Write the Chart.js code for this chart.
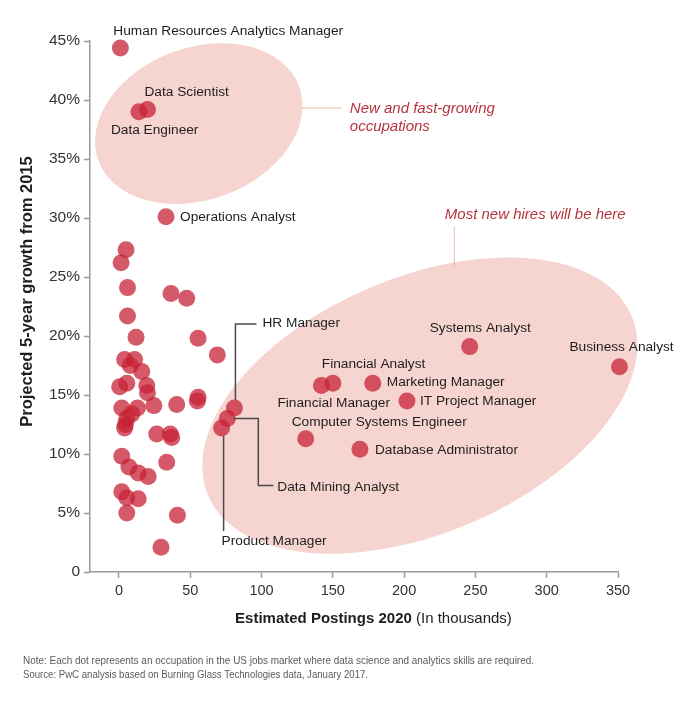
<!DOCTYPE html>
<html><head><meta charset="utf-8">
<script src="https://cdn.jsdelivr.net/npm/chart.js@4.4.0/dist/chart.umd.min.js"></script>
<style>html,body{margin:0;padding:0;background:#fff}#wrap{width:692px;height:703px}</style>
</head><body><div id="wrap"><canvas id="c" width="692" height="703"></canvas></div>
<script>
// ---- data ----
const namedJobs = ['Human Resources Analytics Manager','Data Scientist','Data Engineer','Operations Analyst','HR Manager','Data Mining Analyst','Product Manager','Systems Analyst','Business Analyst','Financial Analyst','Financial Manager','Marketing Manager','IT Project Manager','Computer Systems Engineer','Database Administrator'];
const namedX = [1, 20, 14, 33, 81, 76, 72, 246, 351, 150, 142, 178, 202, 131, 169];
const namedY = [44.4, 39.2, 39.0, 30.1, 13.9, 13.0, 12.2, 19.1, 17.4, 16.0, 15.8, 16.0, 14.5, 11.3, 10.4];
const otherX = [5, 1.5, 6, 36.5, 47.5, 6, 12, 55.5, 69, 4, 11, 8, 16, 0.5, 5.5, 19.5, 20, 24.5, 2, 13, 9, 5.5, 4.5, 4, 40.5, 55.5, 55, 26.5, 36, 37, 33.5, 2, 7, 13.5, 20.5, 2, 5.5, 13.5, 5.5, 41, 29.5];
const otherY = [27.3, 26.2, 24.1, 23.6, 23.2, 21.7, 19.9, 19.8, 18.4, 18.0, 18.0, 17.5, 17.0, 15.7, 16.0, 15.8, 15.2, 14.1, 13.9, 13.9, 13.4, 13.0, 12.5, 12.2, 14.2, 14.8, 14.5, 11.7, 11.7, 11.4, 9.3, 9.8, 8.9, 8.4, 8.1, 6.8, 6.3, 6.2, 5.0, 4.8, 2.1];
const xTickValues = [0, 50, 100, 150, 200, 250, 300, 350];
const yTickValues = [0, 5, 10, 15, 20, 25, 30, 35, 40, 45];
const xTitleBold = 'Estimated Postings 2020';
const xTitleRest = ' (In thousands)';
const yTitle = 'Projected 5-year growth from 2015';
const groupTop = ['New and fast-growing', 'occupations'];
const groupBottom = 'Most new hires will be here';
const notes = ['Note: Each dot represents an occupation in the US jobs market where data science and analytics skills are required.', 'Source: PwC analysis based on Burning Glass Technologies data, January 2017.'];
// group centres (data units)
const groupCentreX = [56, 211];
const groupCentreY = [38.0, 14.1];

// ---- styling (pixels) ----
const FONT = '"Liberation Sans", Arial, Helvetica, sans-serif';
const labelStyle = [
  {dx:-7, dy:-17}, {dx:-3, dy:-17}, {dx:-28, dy:18}, {dx:14, dy:0},
  {dx:28, dy:-85, leader:[[1,-8],[1,-84],[22,-84]]},
  {dx:50, dy:69, leader:[[6,0],[31,0],[31,67],[46,67]]},
  {dx:0, dy:113, leader:[[2,8],[2,103]]},
  {dx:-40, dy:-18}, {dx:-50, dy:-19}, {dx:-11, dy:-19}, {dx:-44, dy:18},
  {dx:14, dy:-1}, {dx:13, dy:0}, {dx:-14, dy:-16}, {dx:15, dy:1}
];
const ellipseStyle = [
  {a:107, b:76, rot:-20.4},
  {a:230, b:128, rot:-23}
];
const pink = '#f6d4d0';
const accent = '#b5343f';

const decor = {
  id: 'decor',
  beforeDatasetsDraw(chart) {
    const ctx = chart.ctx, xs = chart.scales.x, ys = chart.scales.y;
    ctx.save();
    for (let i = 0; i < 2; i++) {
      const cx = xs.getPixelForValue(groupCentreX[i]);
      const cy = ys.getPixelForValue(groupCentreY[i]);
      const e = ellipseStyle[i];
      ctx.beginPath();
      ctx.ellipse(cx, cy, e.a, e.b, e.rot * Math.PI / 180, 0, Math.PI * 2);
      ctx.fillStyle = pink;
      ctx.fill();
    }
    const c0x = xs.getPixelForValue(groupCentreX[0]), c0y = ys.getPixelForValue(groupCentreY[0]);
    const c1x = xs.getPixelForValue(groupCentreX[1]), c1y = ys.getPixelForValue(groupCentreY[1]);
    ctx.strokeStyle = '#eab8b3'; ctx.lineWidth = 1;
    ctx.beginPath(); ctx.moveTo(c0x + 103, c0y - 15.5); ctx.lineTo(c0x + 143, c0y - 15.5); ctx.stroke();
    ctx.beginPath(); ctx.moveTo(c1x + 34.5, c1y - 179); ctx.lineTo(c1x + 34.5, c1y - 139); ctx.stroke();
    ctx.fillStyle = accent;
    ctx.font = 'italic 15px ' + FONT;
    ctx.textBaseline = 'middle'; ctx.textAlign = 'left';
    ctx.fillText(groupTop[0], c0x + 151, c0y - 15);
    ctx.fillText(groupTop[1], c0x + 151, c0y + 3);
    ctx.fillText(groupBottom, c1x + 25, c1y - 191);
    ctx.restore();
  },
  afterDatasetsDraw(chart) {
    const ctx = chart.ctx, xs = chart.scales.x, ys = chart.scales.y;
    ctx.save();
    ctx.font = '13.7px ' + FONT;
    ctx.textBaseline = 'middle'; ctx.textAlign = 'left';
    for (let i = 0; i < namedJobs.length; i++) {
      const px = xs.getPixelForValue(namedX[i]);
      const py = ys.getPixelForValue(namedY[i]);
      const s = labelStyle[i];
      if (s.leader) {
        ctx.strokeStyle = '#4a4a4a'; ctx.lineWidth = 1.5;
        ctx.beginPath();
        s.leader.forEach((p, k) => { if (k === 0) ctx.moveTo(px + p[0], py + p[1]); else ctx.lineTo(px + p[0], py + p[1]); });
        ctx.stroke();
      }
      ctx.fillStyle = '#1e1e1e';
      ctx.fillText(namedJobs[i], px + s.dx, py + s.dy);
    }
    ctx.restore();
  },
  afterDraw(chart) {
    const ctx = chart.ctx, xs = chart.scales.x, ca = chart.chartArea;
    ctx.save();
    ctx.fillStyle = '#1e1e1e';
    ctx.textBaseline = 'middle';
    ctx.font = 'bold 15px ' + FONT;
    const wb = ctx.measureText(xTitleBold).width;
    ctx.font = '15px ' + FONT;
    const wr = ctx.measureText(xTitleRest).width;
    const mid = (xs.getPixelForValue(xTickValues[0]) + xs.getPixelForValue(xTickValues[xTickValues.length - 1])) / 2 + 5;
    let sx = mid - (wb + wr) / 2;
    ctx.textAlign = 'left';
    ctx.font = 'bold 15px ' + FONT;
    ctx.fillText(xTitleBold, sx, ca.bottom + 47);
    ctx.font = '15px ' + FONT;
    ctx.fillText(xTitleRest, sx + wb, ca.bottom + 47);
    ctx.save();
    ctx.translate(27, (ca.top + ca.bottom) / 2 - 15);
    ctx.rotate(-Math.PI / 2);
    ctx.textAlign = 'center';
    ctx.font = 'bold 16.5px ' + FONT;
    ctx.fillText(yTitle, 0, 0);
    ctx.restore();
    ctx.fillStyle = '#5a5a5a';
    ctx.font = '10.5px ' + FONT;
    ctx.textAlign = 'left';
    ctx.fillText(notes[0], 23, 661, 511);
    ctx.fillText(notes[1], 23, 675, 345);
    ctx.restore();
  }
};

const pointColor = 'rgba(198,32,52,0.74)';
new Chart(document.getElementById('c'), {
  type: 'scatter',
  data: {
    datasets: [
      { data: otherX.map((x, i) => ({x, y: otherY[i]})), backgroundColor: pointColor, borderWidth: 0, pointRadius: 8.5, pointHoverRadius: 8.5, clip: false },
      { data: namedX.map((x, i) => ({x, y: namedY[i]})), backgroundColor: pointColor, borderWidth: 0, pointRadius: 8.5, pointHoverRadius: 8.5, clip: false }
    ]
  },
  options: {
    responsive: false, animation: false,
    layout: { padding: { left: 0, right: 74, top: 41, bottom: 0 } },
    plugins: { legend: { display: false }, tooltip: { enabled: false } },
    scales: {
      x: {
        type: 'linear', min: -20.3, max: 350,
        afterBuildTicks: (s) => { s.ticks = xTickValues.map(v => ({value: v})); },
        afterFit: (s) => { s.height = 131; },
        grid: { drawOnChartArea: false, drawTicks: true, tickLength: 6, tickColor: '#9a9a9a', tickWidth: 1.5 },
        border: { color: '#9a9a9a', width: 1.5 },
        ticks: { color: '#333', font: { family: FONT, size: 14.5 }, padding: 4, maxRotation: 0, autoSkip: false }
      },
      y: {
        type: 'linear', min: 0, max: 45,
        afterBuildTicks: (s) => { s.ticks = yTickValues.map(v => ({value: v})); },
        afterFit: (s) => { s.width = 90; },
        grid: { drawOnChartArea: false, drawTicks: true, tickLength: 6, tickColor: '#9a9a9a', tickWidth: 1.5 },
        border: { color: '#9a9a9a', width: 1.5 },
        ticks: { color: '#333', font: { family: FONT, size: 15.5 }, padding: 4, callback: v => v === 0 ? '0' : v + '%' }
      }
    }
  },
  plugins: [decor]
});
</script></body></html>
